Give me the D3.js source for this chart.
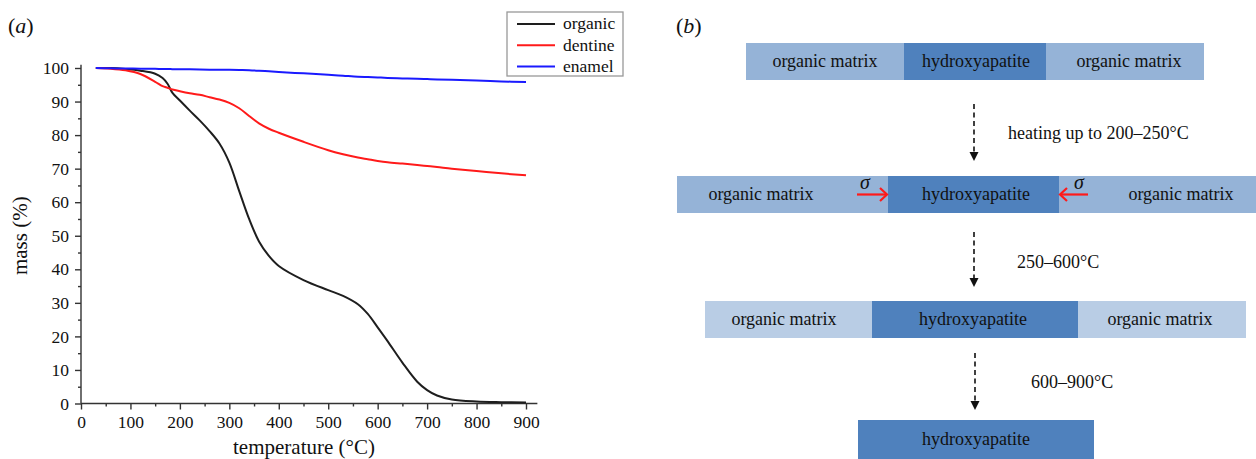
<!DOCTYPE html>
<html>
<head>
<meta charset="utf-8">
<script src="https://cdn.jsdelivr.net/npm/d3@7"></script>
<style>
  body { margin: 0; background: #fff; }
  svg { display: block; }
  text { font-family: "Liberation Serif", "Times New Roman", serif; fill: #111; }
</style>
</head>
<body>
<svg id="fig" width="1256" height="459"></svg>
<script>
// Thermogravimetric curves: mass remaining (%) versus temperature (°C)
const temperature = [30, 60, 90, 120, 150, 165, 175, 185, 200, 220, 240, 260, 280, 300, 320, 340, 360, 380, 400,
                     450, 500, 530, 560, 580, 600, 620, 650, 680, 700, 720, 750, 800, 850, 900];
const organicMass = [100, 100, 99.7, 99.2, 98.3, 97.0, 95.3, 92.6, 90.3, 87.3, 84.4, 81.2, 77.5, 71.8, 63.3, 55.0, 48.3, 44.0, 41.0,
                     36.8, 33.8, 32.1, 29.6, 26.7, 22.7, 18.6, 12.2, 6.5, 4.0, 2.4, 1.2, 0.6, 0.4, 0.3];
const dentineMass = [100, 99.8, 99.3, 98.2, 95.9, 94.6, 94.1, 93.6, 93.1, 92.5, 92.0, 91.3, 90.6, 89.6, 88.0, 85.7, 83.5, 81.9, 80.7,
                     78.0, 75.5, 74.3, 73.3, 72.8, 72.3, 71.9, 71.5, 71.1, 70.8, 70.5, 70.0, 69.3, 68.6, 68.0];
const enamelMass  = [100, 99.9, 99.85, 99.8, 99.75, 99.7, 99.7, 99.65, 99.6, 99.6, 99.55, 99.5, 99.5, 99.45, 99.4, 99.35, 99.2, 99.0, 98.8,
                     98.4, 98.0, 97.7, 97.4, 97.3, 97.2, 97.05, 96.9, 96.8, 96.7, 96.6, 96.5, 96.3, 96.0, 95.8];
const seriesNames = ["organic", "dentine", "enamel"];
const seriesColors = ["#1e1e1e", "#ff1a1a", "#1a1aff"];
const xTickValues = [0, 100, 200, 300, 400, 500, 600, 700, 800, 900];
const xMinorValues = [50, 150, 250, 350, 450, 550, 650, 750, 850];
const yTickValues = [0, 10, 20, 30, 40, 50, 60, 70, 80, 90, 100];
const yMinorValues = [5, 15, 25, 35, 45, 55, 65, 75, 85, 95];

// Schematic of the heating stages
const stageSegments = [
  ["organic matrix", "hydroxyapatite", "organic matrix"],
  ["organic matrix", "hydroxyapatite", "organic matrix"],
  ["organic matrix", "hydroxyapatite", "organic matrix"],
  ["hydroxyapatite"]
];
const stepLabels = ["heating up to 200–250°C", "250–600°C", "600–900°C"];

const svg = d3.select("#fig");

// ---------- panel (a) ----------
const x = d3.scaleLinear().domain([0, 900]).range([81, 526]);
const y = d3.scaleLinear().domain([0, 100]).range([403.5, 68]);
const axisColor = "#333";

svg.append("text").attr("x", 8).attr("y", 33).style("font-size", "22px")
  .html('(<tspan font-style="italic">a</tspan>)');

// x axis
const gx = svg.append("g").attr("transform", `translate(0,${y(0)})`);
gx.call(d3.axisBottom(x).tickValues(xTickValues).tickSize(6).tickPadding(6).tickSizeOuter(0));
gx.append("g").call(d3.axisBottom(x).tickValues(xMinorValues).tickSize(3).tickFormat(""))
  .select(".domain").remove();
gx.select(".domain").remove();
gx.append("line").attr("x1", x(0)).attr("x2", x(923)).attr("stroke", axisColor).attr("stroke-width", 1.4);
gx.selectAll("line").attr("stroke", axisColor).attr("stroke-width", 1.4);
gx.selectAll("text").style("font-size", "17.5px").style("font-family", "Liberation Serif").attr("fill", "#111");

// y axis
const gy = svg.append("g").attr("transform", `translate(${x(0)},0)`);
gy.call(d3.axisLeft(y).tickValues(yTickValues).tickSize(6).tickPadding(6).tickSizeOuter(0));
gy.append("g").call(d3.axisLeft(y).tickValues(yMinorValues).tickSize(3).tickFormat(""))
  .select(".domain").remove();
gy.select(".domain").remove();
gy.append("line").attr("y1", y(0)).attr("y2", y(101)).attr("stroke", axisColor).attr("stroke-width", 1.4);
gy.selectAll("line").attr("stroke", axisColor).attr("stroke-width", 1.4);
gy.selectAll("text").style("font-size", "17.5px").style("font-family", "Liberation Serif").attr("fill", "#111");

// axis titles
svg.append("text").attr("x", 304).attr("y", 454).attr("text-anchor", "middle")
  .style("font-size", "21px").text("temperature (°C)");
svg.append("text").attr("transform", `translate(27,${y(50)}) rotate(-90)`).attr("text-anchor", "middle")
  .style("font-size", "21px").text("mass (%)");

// curves
const seriesValues = [organicMass, dentineMass, enamelMass];
const line = d3.line().x(d => x(d[0])).y(d => y(d[1])).curve(d3.curveCatmullRom.alpha(0.5));
seriesValues.forEach((vals, i) => {
  svg.append("path")
    .datum(temperature.map((t, k) => [t, vals[k]]))
    .attr("fill", "none").attr("stroke", seriesColors[i]).attr("stroke-width", 2)
    .attr("d", line);
});

// legend
const lg = svg.append("g").attr("transform", "translate(507,12)");
lg.append("rect").attr("width", 116).attr("height", 64).attr("fill", "#fff")
  .attr("stroke", "#999").attr("stroke-width", 1.3);
seriesNames.forEach((name, i) => {
  const yy = 12 + i * 21.3;
  lg.append("line").attr("x1", 10).attr("x2", 48).attr("y1", yy).attr("y2", yy)
    .attr("stroke", seriesColors[i]).attr("stroke-width", 2);
  lg.append("text").attr("x", 56).attr("y", yy).attr("dy", "0.3em")
    .style("font-size", "17.5px").text(name);
});

// ---------- panel (b) ----------
svg.append("text").attr("x", 676).attr("y", 33).style("font-size", "22px")
  .html('(<tspan font-style="italic">b</tspan>)');

const lightBlue = ["#95b3d7", "#95b3d7", "#b9cde5"];
const darkBlue = "#4f81bd";
// stage bars: left edge, inner edges, right edge, top and bottom
const stageLayout = [
  { edges: [746, 904, 1046, 1204], top: 43, bottom: 80, centers: [825, 976, 1129] },
  { edges: [677, 888, 1059, 1256], top: 176, bottom: 213, centers: [761, 976, 1181] },
  { edges: [705, 872, 1078, 1246], top: 301, bottom: 338, centers: [784, 973, 1160] },
  { edges: [858, 1094], top: 420, bottom: 459, centers: [976] }
];

stageSegments.forEach((segs, s) => {
  const L = stageLayout[s];
  segs.forEach((label, k) => {
    const isHA = label === "hydroxyapatite";
    svg.append("rect")
      .attr("x", L.edges[k]).attr("y", L.top)
      .attr("width", L.edges[k + 1] - L.edges[k]).attr("height", L.bottom - L.top)
      .attr("fill", isHA ? darkBlue : lightBlue[s]);
    svg.append("text").attr("x", L.centers[k]).attr("y", (L.top + L.bottom) / 2)
      .attr("dy", "0.33em").attr("text-anchor", "middle")
      .style("font-size", "18px").text(label);
  });
});

// dashed arrows between stages with their temperature ranges
const arrowLayout = [
  { x: 974, y1: 104, y2: 161, tx: 1008, ty: 133 },
  { x: 974, y1: 232, y2: 287, tx: 1017, ty: 262 },
  { x: 975, y1: 353, y2: 410, tx: 1031, ty: 382 }
];
stepLabels.forEach((label, i) => {
  const a = arrowLayout[i];
  svg.append("line").attr("x1", a.x).attr("x2", a.x).attr("y1", a.y1).attr("y2", a.y2 - 7)
    .attr("stroke", "#111").attr("stroke-width", 1.6).attr("stroke-dasharray", "5,3.5");
  svg.append("path")
    .attr("d", `M${a.x - 4.5},${a.y2 - 9}L${a.x + 4.5},${a.y2 - 9}L${a.x},${a.y2}Z`)
    .attr("fill", "#111");
  svg.append("text").attr("x", a.tx).attr("y", a.ty).attr("dy", "0.33em")
    .style("font-size", "18px").text(label);
});

// compressive stress arrows on the hydroxyapatite at stage 2
const stress = [
  { from: 857, to: 887, sx: 865 },
  { from: 1088, to: 1060, sx: 1079 }
];
stress.forEach(st => {
  const yy = 194.5, dir = Math.sign(st.to - st.from);
  svg.append("line").attr("x1", st.from).attr("x2", st.to - dir).attr("y1", yy).attr("y2", yy)
    .attr("stroke", "#ff1a1a").attr("stroke-width", 2.2);
  svg.append("path")
    .attr("d", `M${st.to - dir * 7},${yy - 6.5}L${st.to},${yy}L${st.to - dir * 7},${yy + 6.5}`)
    .attr("fill", "none").attr("stroke", "#ff1a1a").attr("stroke-width", 2.2);
  svg.append("text").attr("x", st.sx).attr("y", 189).attr("text-anchor", "middle")
    .style("font-size", "20px").style("font-style", "italic").text("σ");
});
</script>
</body>
</html>
